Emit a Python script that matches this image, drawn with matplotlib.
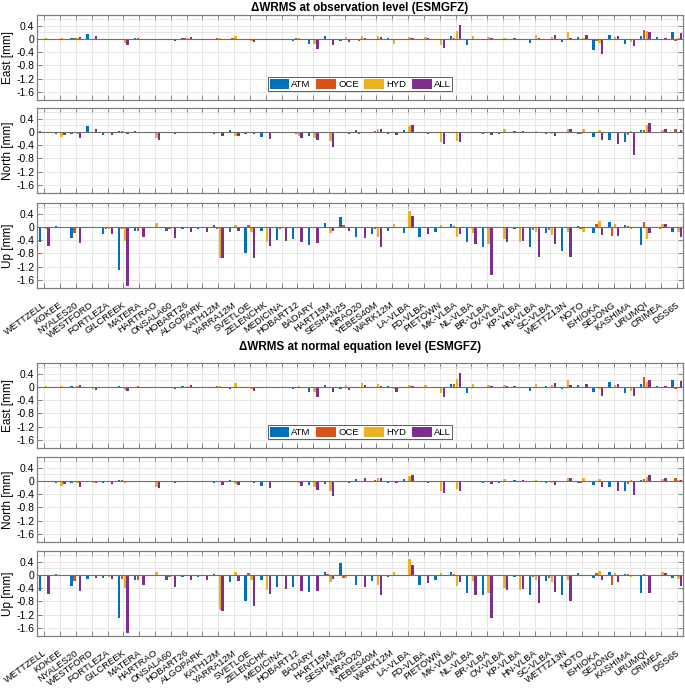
import matplotlib
matplotlib.use('Agg')
import matplotlib.pyplot as plt
import numpy as np
from matplotlib.transforms import ScaledTranslation

plt.rcParams['font.family'] = ['Liberation Sans', 'DejaVu Sans']
plt.rcParams['axes.unicode_minus'] = False

stations = ['WETTZELL', 'KOKEE', 'NYALES20', 'WESTFORD', 'FORTLEZA', 'GILCREEK', 'MATERA',
            'HARTRAO', 'ONSALA60', 'HOBART26', 'ALGOPARK', 'KATH12M', 'YARRA12M', 'SVETLOE',
            'ZELENCHK', 'MEDICINA', 'HOBART12', 'BADARY', 'HART15M', 'SESHAN25', 'NRAO20',
            'YEBES40M', 'WARK12M', 'LA-VLBA', 'FD-VLBA', 'PIETOWN', 'MK-VLBA', 'NL-VLBA',
            'BR-VLBA', 'OV-VLBA', 'KP-VLBA', 'HN-VLBA', 'SC-VLBA', 'WETTZ13N', 'NOTO',
            'ISHIOKA', 'SEJONG', 'KASHIMA', 'URUMQI', 'CRIMEA', 'DSS65']
series_names = ['ATM', 'OCE', 'HYD', 'ALL']
titles = ['\u0394WRMS at observation level (ESMGFZ)', '\u0394WRMS at normal equation level (ESMGFZ)']
comp_labels = ['East [mm]', 'North [mm]', 'Up [mm]']
ytick_vals = [-1.6, -1.2, -0.8, -0.4, 0, 0.4]
ytick_text = ['-1.6', '-1.2', '-0.8', '-0.4', '0', '0.4']

# ---- observation level ----
east_obs_atm = [-0.01, -0.04, 0.02, 0.15, -0.05, -0.03, 0.02, -0.02, -0.03, 0.03, -0.01, 0.0, -0.05, -0.01, -0.03, -0.02, -0.07, -0.17, 0.08, -0.07, -0.03, -0.01, 0.01, -0.01, -0.03, -0.03, 0.1, -0.2, -0.01, -0.01, 0.03, -0.12, -0.01, -0.1, 0.05, -0.35, 0.13, -0.17, 0.1, 0.05, 0.22]
east_obs_oce = [0.0, 0.0, 0.01, -0.05, 0.0, -0.01, 0.02, -0.02, -0.05, 0.01, 0.0, 0.03, 0.03, 0.0, -0.01, -0.01, 0.02, -0.02, -0.04, -0.03, -0.06, -0.01, 0.0, 0.0, 0.0, 0.0, 0.02, 0.0, 0.0, 0.0, -0.01, 0.0, 0.0, 0.0, 0.0, -0.08, -0.03, -0.02, 0.27, 0.0, -0.07]
east_obs_hyd = [0.01, 0.02, 0.03, 0.0, -0.01, -0.13, 0.0, -0.01, 0.0, 0.02, -0.05, 0.01, 0.1, -0.06, 0.0, -0.01, 0.01, -0.17, -0.01, 0.05, 0.1, 0.08, -0.17, 0.06, 0.05, -0.2, 0.25, 0.1, 0.05, 0.01, -0.03, 0.12, 0.04, 0.2, 0.01, -0.12, 0.05, -0.1, 0.23, -0.03, 0.01]
east_obs_all = [-0.01, -0.02, 0.04, 0.1, -0.04, -0.18, -0.03, -0.03, -0.06, 0.05, -0.04, 0.0, 0.0, -0.1, -0.02, -0.03, -0.03, -0.3, -0.2, -0.1, 0.03, 0.05, -0.05, 0.03, 0.01, -0.28, 0.42, 0.0, 0.02, 0.0, -0.03, 0.01, 0.12, 0.03, 0.12, -0.45, 0.1, -0.22, 0.2, 0.01, 0.18]

north_obs_atm = [0.02, -0.08, -0.06, 0.17, -0.1, 0.03, 0.02, -0.04, -0.04, -0.03, -0.01, -0.08, 0.05, -0.06, -0.15, -0.03, -0.03, -0.13, -0.05, -0.02, 0.04, 0.0, -0.06, 0.06, -0.02, -0.05, -0.05, -0.05, -0.08, -0.07, 0.03, 0.0, -0.06, -0.03, -0.08, -0.15, -0.25, -0.3, 0.06, 0.0, 0.0]
north_obs_oce = [0.0, 0.0, 0.0, -0.05, 0.0, 0.01, 0.0, 0.0, 0.0, 0.0, 0.0, -0.05, -0.03, 0.0, -0.03, -0.02, -0.06, -0.05, 0.0, 0.0, -0.08, 0.03, 0.0, 0.0, 0.0, 0.0, 0.0, 0.0, 0.0, 0.0, -0.01, 0.0, -0.03, 0.0, -0.08, -0.05, -0.01, -0.1, 0.04, -0.02, 0.08]
north_obs_hyd = [-0.01, -0.15, -0.08, 0.0, -0.04, -0.05, 0.0, -0.2, 0.0, 0.0, 0.0, -0.05, -0.12, -0.05, -0.01, 0.0, -0.12, -0.2, -0.27, -0.02, -0.04, 0.08, -0.04, 0.18, -0.03, -0.3, -0.27, 0.0, 0.0, 0.07, -0.02, 0.02, -0.07, 0.08, 0.08, 0.05, -0.05, 0.02, 0.2, 0.05, -0.03]
north_obs_all = [-0.02, -0.1, -0.18, 0.1, -0.1, -0.06, -0.02, -0.25, -0.06, -0.02, -0.01, -0.12, -0.12, -0.08, -0.22, -0.01, -0.18, -0.25, -0.45, -0.08, 0.0, 0.08, -0.1, 0.2, -0.07, -0.37, -0.3, -0.05, -0.1, -0.02, 0.03, 0.0, -0.12, 0.08, -0.05, -0.25, -0.38, -0.7, 0.27, 0.08, 0.05]

up_obs_atm = [-0.45, 0.02, -0.35, -0.05, -0.22, -1.32, -0.12, -0.03, -0.13, -0.07, -0.08, 0.05, -0.16, -0.8, -0.14, -0.4, -0.36, -0.54, 0.12, 0.3, -0.3, -0.22, -0.13, -0.18, -0.3, -0.15, 0.1, -0.47, -0.62, -0.04, -0.08, -0.62, -0.2, -0.72, 0.03, -0.18, 0.15, 0.05, -0.55, 0.0, -0.15]
up_obs_oce = [0.0, -0.04, -0.18, -0.02, -0.08, -0.08, -0.12, 0.0, -0.07, -0.04, 0.0, -0.06, 0.0, 0.04, -0.05, -0.06, -0.04, 0.0, 0.0, 0.04, 0.0, -0.08, 0.0, 0.0, 0.0, 0.0, 0.03, 0.0, 0.0, 0.0, 0.0, -0.1, -0.1, -0.05, -0.08, 0.1, -0.27, 0.03, 0.15, -0.06, 0.0]
up_obs_hyd = [-0.07, -0.04, 0.0, 0.0, -0.07, -0.42, 0.0, 0.12, 0.0, -0.03, 0.0, -0.93, 0.04, -0.15, -0.47, 0.0, 0.0, 0.0, -0.2, -0.05, -0.05, -0.3, 0.1, 0.48, -0.02, 0.05, -0.32, -0.2, -0.52, -0.38, -0.45, -0.15, -0.25, -0.15, -0.15, 0.18, 0.08, -0.08, -0.38, 0.1, -0.15]
up_obs_all = [-0.58, 0.0, -0.48, -0.02, -0.23, -1.8, -0.32, 0.0, -0.33, -0.15, -0.15, -0.95, -0.13, -0.94, -0.58, -0.42, -0.45, -0.48, -0.12, -0.14, -0.33, -0.6, -0.03, 0.32, -0.23, -0.03, -0.22, -0.53, -1.47, -0.45, -0.43, -0.92, -0.53, -0.9, -0.05, -0.25, -0.28, 0.0, -0.18, 0.08, -0.3]

# ---- normal equation level ----
east_neq_atm = [-0.01, -0.04, 0.01, -0.02, -0.05, 0.02, 0.0, -0.02, -0.01, 0.03, -0.01, 0.0, -0.07, 0.0, -0.03, -0.01, -0.07, -0.17, 0.05, -0.07, -0.01, -0.02, 0.02, 0.0, -0.03, -0.03, 0.1, -0.2, 0.0, 0.0, 0.03, -0.12, 0.02, -0.08, 0.05, -0.15, 0.15, -0.2, 0.1, 0.02, 0.22]
east_neq_oce = [0.0, 0.0, 0.0, 0.0, 0.0, -0.03, 0.02, 0.0, -0.05, 0.0, 0.0, 0.02, 0.0, 0.0, 0.0, -0.02, 0.0, 0.0, -0.03, -0.03, -0.05, 0.0, 0.0, 0.0, 0.0, 0.0, 0.07, 0.0, 0.0, 0.0, 0.0, 0.0, 0.0, 0.0, 0.0, -0.05, -0.03, 0.0, 0.3, 0.0, -0.07]
east_neq_hyd = [0.01, 0.02, 0.03, -0.07, 0.0, -0.1, 0.0, 0.0, 0.0, 0.01, 0.0, 0.02, 0.13, -0.06, 0.0, 0.0, 0.02, -0.17, 0.0, 0.05, 0.13, 0.07, -0.08, 0.05, 0.05, -0.2, 0.25, 0.1, 0.04, 0.05, 0.0, 0.1, 0.05, 0.2, 0.0, -0.08, 0.05, -0.12, 0.15, 0.0, 0.0]
east_neq_all = [-0.01, -0.03, 0.05, -0.1, -0.03, -0.13, 0.0, -0.03, -0.07, 0.05, -0.04, 0.0, 0.0, -0.12, -0.02, 0.0, 0.0, -0.32, -0.17, -0.1, 0.04, 0.03, -0.15, 0.02, 0.0, -0.3, 0.42, 0.0, 0.02, 0.01, -0.02, 0.0, 0.12, 0.05, 0.1, -0.27, 0.1, -0.28, 0.22, 0.03, 0.18]

north_neq_atm = [-0.03, -0.07, -0.08, -0.02, -0.07, 0.03, 0.0, -0.03, -0.04, -0.04, -0.01, -0.08, 0.02, -0.05, -0.15, -0.02, -0.05, -0.13, -0.1, -0.02, 0.05, 0.0, -0.06, 0.05, -0.02, -0.05, -0.05, -0.05, -0.08, -0.06, 0.03, 0.0, -0.06, 0.0, -0.08, -0.14, -0.2, -0.3, 0.03, 0.0, 0.0]
north_neq_oce = [0.0, 0.0, 0.0, 0.0, 0.0, 0.01, 0.0, 0.0, 0.0, 0.0, 0.0, -0.05, -0.02, 0.0, -0.03, -0.02, -0.03, 0.0, 0.0, 0.0, -0.04, 0.02, 0.0, 0.0, 0.0, 0.0, 0.0, 0.0, 0.0, 0.0, 0.0, 0.0, -0.03, 0.0, -0.08, -0.05, 0.0, -0.1, 0.04, 0.0, 0.08]
north_neq_hyd = [0.0, -0.15, -0.08, -0.07, -0.04, -0.06, 0.0, -0.2, 0.0, 0.0, 0.0, -0.03, -0.1, -0.05, 0.0, 0.0, -0.07, -0.18, -0.3, -0.05, 0.0, 0.07, -0.05, 0.15, -0.03, -0.3, -0.25, 0.0, 0.0, 0.06, -0.02, 0.02, -0.07, 0.07, 0.1, 0.05, -0.05, 0.02, 0.13, 0.06, 0.01]
north_neq_all = [-0.05, -0.1, -0.18, -0.08, -0.1, -0.01, -0.02, -0.23, -0.06, -0.02, 0.0, -0.12, -0.12, -0.08, -0.22, 0.0, -0.15, -0.27, -0.45, -0.07, 0.07, 0.07, -0.08, 0.18, -0.07, -0.38, -0.3, -0.05, -0.1, -0.02, 0.03, 0.0, -0.12, 0.1, -0.05, -0.2, -0.3, -0.42, 0.18, 0.07, 0.03]

up_neq_atm = [-0.48, 0.02, -0.35, -0.13, -0.1, -1.3, -0.15, -0.05, -0.15, -0.07, -0.07, 0.03, -0.23, -0.8, -0.15, -0.38, -0.38, -0.52, 0.1, 0.37, -0.3, -0.18, -0.08, 0.0, -0.3, -0.15, 0.08, -0.55, -0.6, -0.03, -0.08, -0.62, -0.2, -0.62, 0.05, -0.1, 0.07, 0.03, -0.55, 0.0, -0.1]
up_neq_oce = [0.0, -0.05, -0.18, 0.0, -0.05, -0.12, -0.15, 0.0, -0.08, -0.05, 0.0, -0.05, 0.0, 0.04, -0.05, -0.05, -0.05, 0.0, 0.02, -0.1, 0.0, -0.05, 0.0, 0.0, 0.0, 0.0, 0.03, 0.0, 0.0, 0.0, 0.0, -0.08, -0.1, -0.03, -0.05, 0.05, -0.3, 0.03, 0.03, -0.03, 0.0]
up_neq_hyd = [-0.05, -0.04, 0.0, 0.0, -0.08, -0.4, 0.0, 0.08, 0.0, -0.03, 0.0, -1.05, 0.08, -0.15, -0.45, 0.0, 0.0, -0.02, -0.22, -0.1, -0.05, -0.3, 0.07, 0.47, 0.0, 0.04, -0.33, -0.2, -0.55, -0.4, -0.45, -0.15, -0.22, -0.15, -0.05, 0.12, 0.04, -0.08, 0.0, 0.07, -0.12]
up_neq_all = [-0.58, 0.0, -0.48, -0.1, -0.12, -1.75, -0.3, 0.0, -0.37, -0.17, -0.17, -1.08, -0.2, -0.95, -0.58, -0.42, -0.5, -0.5, -0.12, -0.03, -0.37, -0.6, -0.03, 0.3, -0.25, 0.0, -0.22, -0.6, -1.3, -0.45, -0.42, -0.85, -0.52, -0.8, -0.03, -0.15, -0.22, 0.0, -0.55, 0.05, -0.35]

panels = [
    [east_obs_atm, east_obs_oce, east_obs_hyd, east_obs_all],
    [north_obs_atm, north_obs_oce, north_obs_hyd, north_obs_all],
    [up_obs_atm, up_obs_oce, up_obs_hyd, up_obs_all],
    [east_neq_atm, east_neq_oce, east_neq_hyd, east_neq_all],
    [north_neq_atm, north_neq_oce, north_neq_hyd, north_neq_all],
    [up_neq_atm, up_neq_oce, up_neq_hyd, up_neq_all],
]

colors = ['#0072BD', '#D95319', '#EDB120', '#7E2F8E']
W, H = 685, 688
fig = plt.figure(figsize=(W / 100, H / 100), dpi=100)

# (top, bottom) pixel rows of each panel
rows = [(15, 100), (108, 193), (203, 288), (363, 448), (457, 542), (551, 636)]
title_y = [8, 347]
frame_col = '#808080'
grid_col = '#e3e3e3'

x = np.arange(1, len(stations) + 1)
group_w = 0.727
bw = group_w / 4 * 0.82

for p, (top, bot) in enumerate(rows):
    ax = fig.add_axes([37 / W, 1 - bot / H, 646 / W, (bot - top) / H])
    ax.set_axisbelow(True)
    handles = []
    for k in range(4):
        off = (k - 1.5) * group_w / 4
        h = ax.bar(x + off, panels[p][k], width=bw, color=colors[k], edgecolor='none',
                   label=series_names[k], zorder=2)
        handles.append(h)
    ax.axhline(0, color='#6e6e6e', lw=0.8, zorder=3)
    ax.set_xlim(0.54, 41.38)
    ax.set_ylim(-1.85, 0.72)
    ax.set_yticks(ytick_vals)
    ax.set_yticklabels(ytick_text, fontsize=7.5)
    ax.set_yticks([0.2, 0.6], minor=True)
    ax.set_xticks(x)
    ax.grid(True, which='both', color=grid_col, lw=0.6, zorder=0)
    ax.tick_params(axis='both', which='major', direction='in', length=3.5, width=0.7,
                   color=frame_col, top=True, right=True, pad=2)
    ax.tick_params(axis='y', which='minor', length=0)
    for s in ax.spines.values():
        s.set_color(frame_col)
        s.set_linewidth(0.9)
    comp = p % 3
    ax.set_ylabel(comp_labels[comp], fontsize=8.5)
    ax.yaxis.set_label_coords(-0.036, 0.5)
    if comp == 2:
        ax.set_xticklabels(stations, rotation=36, ha='right', va='center',
                           rotation_mode='anchor', fontsize=6.8)
        ax.tick_params(axis='x', pad=11.5)
        off_tr = ScaledTranslation(1 / 100, 0, fig.dpi_scale_trans)
        for lab in ax.get_xticklabels():
            lab.set_transform(lab.get_transform() + off_tr)
    else:
        ax.set_xticklabels([])
    if comp == 0:
        leg = ax.legend(handles=handles, loc='center', bbox_to_anchor=(0.5, 0.19), ncol=4,
                        fontsize=6.8, handlelength=2.1, handleheight=1.3, handletextpad=0.2,
                        columnspacing=0.6, borderpad=0.2, borderaxespad=0, frameon=True,
                        fancybox=False, edgecolor='#333333')
        leg.get_frame().set_linewidth(0.7)
        fig.text(360 / W, 1 - title_y[p // 3] / H, titles[p // 3], ha='center', va='center',
                 fontsize=8.4, fontweight='bold')

fig.savefig('out.png', dpi=100)
